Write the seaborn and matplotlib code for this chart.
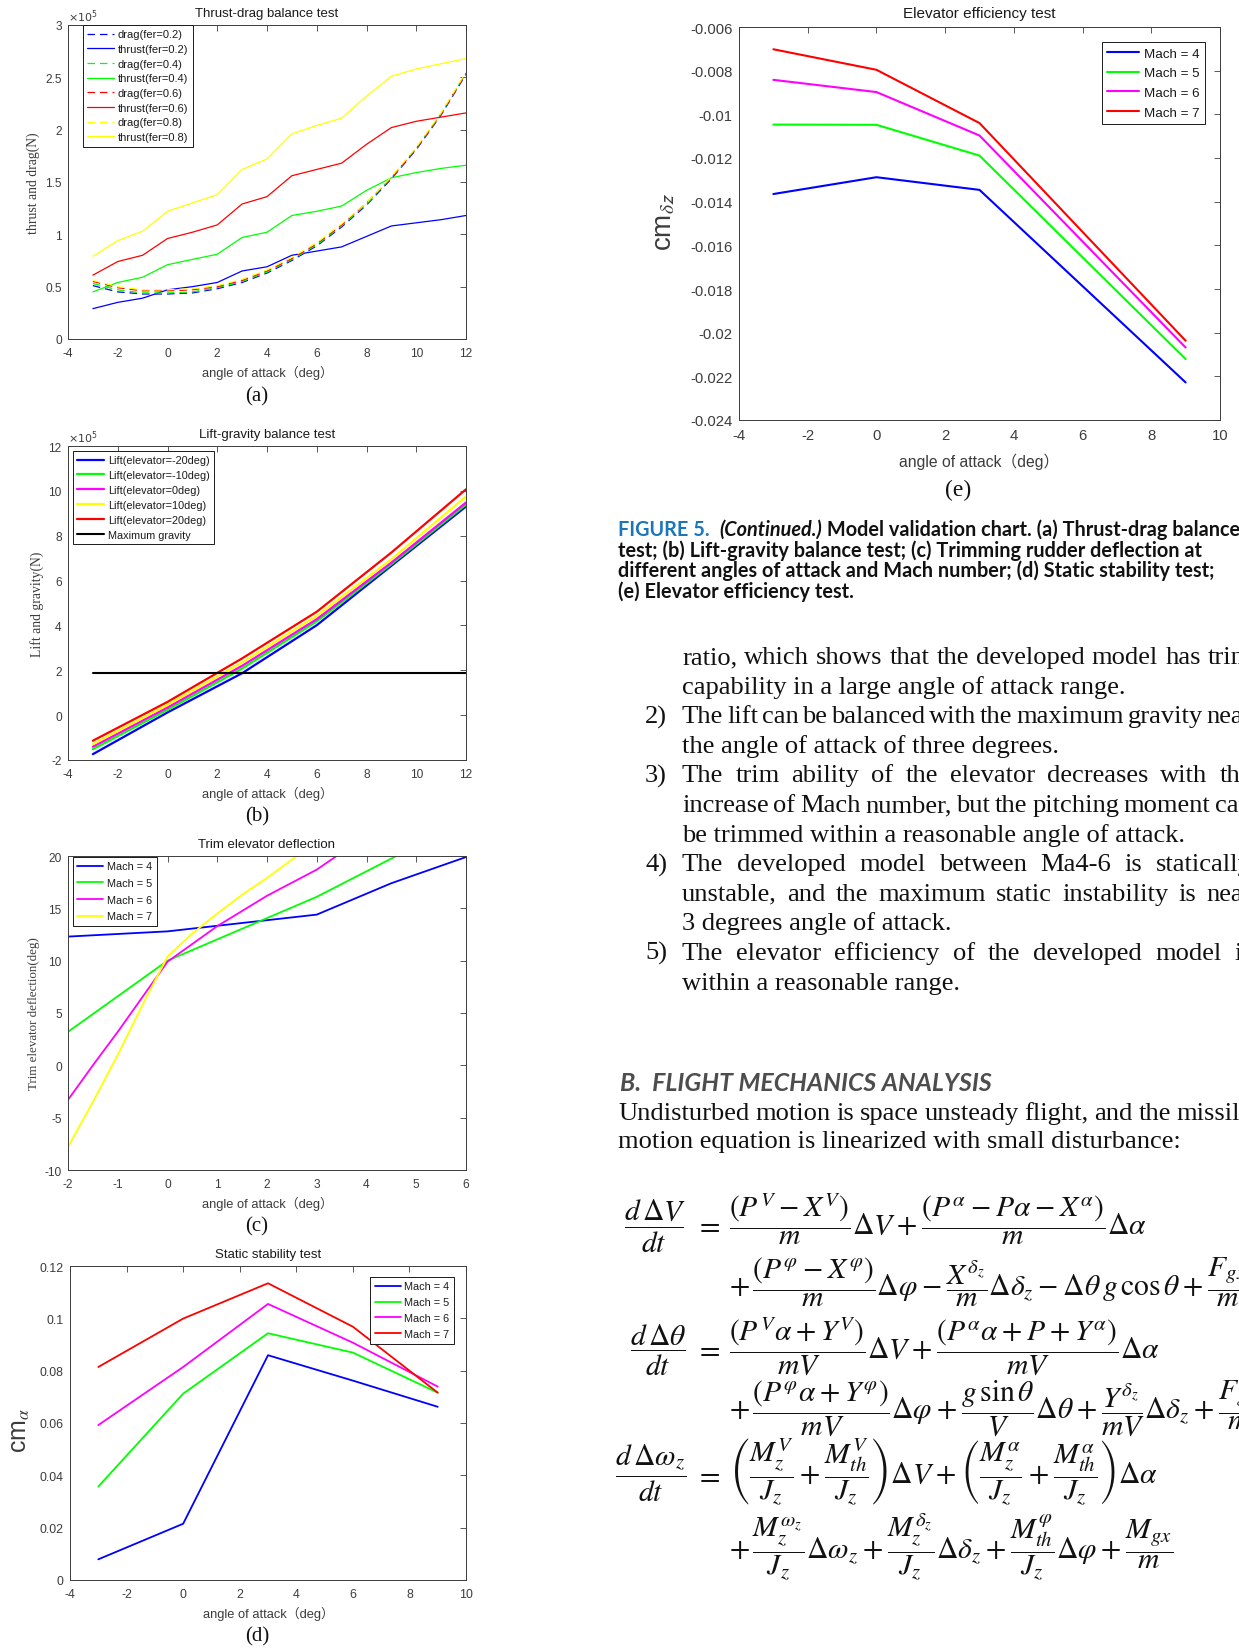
import numpy as np
import pandas as pd
import matplotlib
matplotlib.use("Agg")
import matplotlib.pyplot as plt
import seaborn as sns
from matplotlib import font_manager
from matplotlib.ticker import FuncFormatter

# ---------------- data ----------------
# (a) thrust-drag balance test, values in 1e5 N
a_aoa = [-3, -2, -1, 0, 1, 2, 3, 4, 5, 6, 7, 8, 9, 10, 11, 12]
a_drag_02 = [0.51, 0.45, 0.43, 0.43, 0.44, 0.48, 0.54, 0.63, 0.75, 0.89, 1.07, 1.28, 1.53, 1.81, 2.14, 2.53]
a_thrust_02 = [0.29, 0.35, 0.39, 0.47, 0.50, 0.54, 0.65, 0.69, 0.80, 0.84, 0.88, 0.98, 1.08, 1.11, 1.14, 1.18]
a_drag_04 = [0.53, 0.47, 0.44, 0.44, 0.45, 0.49, 0.55, 0.64, 0.76, 0.90, 1.08, 1.29, 1.54, 1.82, 2.15, 2.54]
a_thrust_04 = [0.45, 0.54, 0.59, 0.71, 0.76, 0.81, 0.97, 1.02, 1.18, 1.22, 1.27, 1.42, 1.54, 1.59, 1.63, 1.66]
a_drag_06 = [0.55, 0.49, 0.46, 0.46, 0.47, 0.50, 0.56, 0.65, 0.77, 0.91, 1.09, 1.30, 1.54, 1.82, 2.15, 2.54]
a_thrust_06 = [0.61, 0.74, 0.80, 0.96, 1.02, 1.09, 1.29, 1.36, 1.56, 1.62, 1.68, 1.86, 2.02, 2.08, 2.12, 2.16]
a_drag_08 = [0.56, 0.50, 0.47, 0.47, 0.48, 0.51, 0.57, 0.66, 0.78, 0.92, 1.10, 1.30, 1.55, 1.83, 2.16, 2.55]
a_thrust_08 = [0.79, 0.94, 1.03, 1.22, 1.30, 1.38, 1.62, 1.72, 1.96, 2.04, 2.11, 2.32, 2.51, 2.58, 2.63, 2.68]
a_labels = ["drag(fer=0.2)", "thrust(fer=0.2)", "drag(fer=0.4)", "thrust(fer=0.4)",
            "drag(fer=0.6)", "thrust(fer=0.6)", "drag(fer=0.8)", "thrust(fer=0.8)"]

# (b) lift-gravity balance test, values in 1e5 N
b_aoa = [-3, 0, 3, 6, 9, 12]
b_lift_m20 = [-1.74, 0.12, 1.87, 4.01, 6.66, 9.30]
b_lift_m10 = [-1.52, 0.24, 2.08, 4.18, 6.73, 9.39]
b_lift_0 = [-1.41, 0.34, 2.20, 4.28, 6.80, 9.48]
b_lift_10 = [-1.29, 0.46, 2.35, 4.43, 6.95, 9.75]
b_lift_20 = [-1.14, 0.59, 2.53, 4.61, 7.25, 10.07]
b_gravity_aoa = [-3, 12]
b_gravity = [1.86, 1.86]
b_labels = ["Lift(elevator=-20deg)", "Lift(elevator=-10deg)", "Lift(elevator=0deg)",
            "Lift(elevator=10deg)", "Lift(elevator=20deg)", "Maximum gravity"]

# (c) trim elevator deflection (deg)
c_aoa_m4 = [-2, 0, 3, 4.5, 6]
c_defl_m4 = [12.3, 12.8, 14.4, 17.4, 19.9]
c_aoa_m5 = [-2, 0, 3, 4.6]
c_defl_m5 = [3.2, 10.0, 16.1, 20.0]
c_aoa_m6 = [-2, -1.5, -1, 0, 1, 2, 3, 3.4]
c_defl_m6 = [-3.3, 0.0, 3.2, 9.9, 13.3, 16.2, 18.7, 20.0]
c_aoa_m7 = [-2, -1.5, -1, -0.5, 0, 0.5, 1, 1.5, 2, 2.6]
c_defl_m7 = [-7.8, -3.5, 1.0, 5.8, 10.4, 12.6, 14.5, 16.3, 17.9, 20.0]
mach_labels = ["Mach = 4", "Mach = 5", "Mach = 6", "Mach = 7"]

# (d) static stability test
d_aoa = [-3, 0, 3, 6, 9]
d_m4 = [0.0079, 0.0215, 0.0859, 0.0762, 0.0662]
d_m5 = [0.0357, 0.0712, 0.0943, 0.0869, 0.0716]
d_m6 = [0.0592, 0.0814, 0.1055, 0.0907, 0.0739]
d_m7 = [0.0814, 0.0999, 0.1134, 0.0968, 0.0716]

# (e) elevator efficiency test
e_aoa = [-3, 0, 3, 9]
e_m4 = [-0.01365, -0.01288, -0.01346, -0.02228]
e_m5 = [-0.01047, -0.01048, -0.01189, -0.02121]
e_m6 = [-0.00842, -0.00898, -0.01097, -0.02068]
e_m7 = [-0.00702, -0.00796, -0.01040, -0.02037]

# ---------------- style ----------------
sns.set_theme(style="white")
plt.rcParams['font.family'] = ['Liberation Sans', 'Noto Sans CJK SC', 'DejaVu Sans']
plt.rcParams['axes.unicode_minus'] = False
plt.rcParams['mathtext.fontset'] = 'stix'

_names = {f.name for f in font_manager.fontManager.ttflist}
CAPF = 'Lato' if 'Lato' in _names else 'Liberation Sans'
SERIF = 'Liberation Serif'

W, H = 1239, 1649
fig = plt.figure(figsize=(W / 100, H / 100), dpi=100)
fig.patch.set_facecolor('white')
renderer = fig.canvas.get_renderer()

BLUE, GREEN, MAG, RED, YEL = '#0000ff', '#00ff00', '#ff00ff', '#ff0000', '#ffff00'
MACH_COLORS = [BLUE, GREEN, MAG, RED]
GRAY = '#3c3c3c'
FMT = FuncFormatter(lambda v, p: f'{v:g}')
XLAB = 'angle of attack（deg）'


def add_ax(l, t, r, b):
    ax = fig.add_axes([l / W, 1 - b / H, (r - l) / W, (b - t) / H])
    ax._px = (l, t, r, b)
    return ax


def style(ax, xlim, xticks, ylim, yticks, tsize, xpad=5.5, ypad=4.5):
    ax.set_xlim(*xlim)
    ax.set_ylim(*ylim)
    ax.set_xticks(xticks)
    ax.set_yticks(yticks)
    ax.xaxis.set_major_formatter(FMT)
    ax.yaxis.set_major_formatter(FMT)
    ax.tick_params(direction='in', top=True, right=True, length=4, width=0.6,
                   colors=GRAY, labelsize=tsize)
    ax.tick_params(axis='x', pad=xpad)
    ax.tick_params(axis='y', pad=ypad)
    for s in ax.spines.values():
        s.set_visible(True)
        s.set_color(GRAY)
        s.set_linewidth(0.7)
    ax.grid(False)
    ax.set_facecolor('white')


def decorate(ax, title, tsize, ttl_y, xl_size, xl_y, ylab, yl_size, yl_x, yfam=None, yl_y=None):
    l, t, r, b = ax._px
    w, h = r - l, b - t
    ax.text(0.5, (b - ttl_y) / h, title, transform=ax.transAxes, ha='center', va='center',
            fontsize=tsize, color='#1a1a1a')
    ax.set_xlabel(XLAB, fontsize=xl_size, color=GRAY)
    ax.xaxis.set_label_coords(0.5, (b - xl_y) / h)
    ax.xaxis.label.set_va('center')
    kw = dict(fontsize=yl_size, color=GRAY)
    if yfam:
        kw['family'] = yfam
    ax.set_ylabel(ylab, **kw)
    yy = 0.5 if yl_y is None else (b - yl_y) / h
    ax.yaxis.set_label_coords((yl_x - l) / w, yy)
    ax.yaxis.label.set_va('center')


def legend(ax, loc, dx, dy, fs, hl, ls, lw=0.7):
    l, t, r, b = ax._px
    w, h = r - l, b - t
    if loc == 'upper left':
        anchor = (dx / w, 1 - dy / h)
    else:
        anchor = (1 - dx / w, 1 - dy / h)
    leg = ax.legend(loc=loc, bbox_to_anchor=anchor, borderaxespad=0, fontsize=fs,
                    frameon=True, fancybox=False, framealpha=1, edgecolor='#1a1a1a',
                    handlelength=hl, handletextpad=0.35, labelspacing=ls, borderpad=0.4)
    leg.get_frame().set_linewidth(lw)
    for tx in leg.get_texts():
        tx.set_color('#1a1a1a')
    return leg


def line(ax, x, y, color, lw, label, ls='-'):
    sns.lineplot(x=x, y=y, ax=ax, color=color, lw=lw, label=label, linestyle=ls,
                 errorbar=None, sort=False)


# ---------------- panel (a) ----------------
axa = add_ax(68, 26, 466, 340)
a_series = [a_drag_02, a_thrust_02, a_drag_04, a_thrust_04, a_drag_06, a_thrust_06, a_drag_08, a_thrust_08]
a_cols = [BLUE, BLUE, GREEN, GREEN, RED, RED, YEL, YEL]
for i, (ys, c, lab) in enumerate(zip(a_series, a_cols, a_labels)):
    line(axa, a_aoa, ys, c, 0.9, lab, ls=(0, (6, 4)) if i % 2 == 0 else '-')
style(axa, (-4, 12), list(range(-4, 13, 2)), (0, 3), [0, 0.5, 1, 1.5, 2, 2.5, 3], 8.6)
decorate(axa, 'Thrust-drag balance test', 9.5, 13.5, 9.3, 372.7, 'thrust and drag(N)', 9.8, 33.5, SERIF)
legend(axa, 'upper left', 15, 0, 8.0, 2.4, 0.42)
axa.text(0, (340 - 22) / 314, r'$\times10^{5}$', transform=axa.transAxes, ha='left', va='baseline',
         fontsize=8, color=GRAY, math_fontfamily='dejavusans')

# ---------------- panel (b) ----------------
axb = add_ax(68, 447, 466, 761)
b_series = [b_lift_m20, b_lift_m10, b_lift_0, b_lift_10, b_lift_20]
for ys, c, lab in zip(b_series, [BLUE, GREEN, MAG, YEL, RED], b_labels[:5]):
    line(axb, b_aoa, ys, c, 1.6, lab)
line(axb, b_gravity_aoa, b_gravity, '#000000', 1.5, b_labels[5])
style(axb, (-4, 12), list(range(-4, 13, 2)), (-2, 12), list(range(-2, 13, 2)), 8.6)
decorate(axb, 'Lift-gravity balance test', 9.5, 435, 9.3, 794, 'Lift and gravity(N)', 9.8, 37.5, SERIF)
legend(axb, 'upper left', 5, 5, 7.8, 2.5, 0.45)
axb.text(0, (761 - 443) / 314, r'$\times10^{5}$', transform=axb.transAxes, ha='left', va='baseline',
         fontsize=8, color=GRAY, math_fontfamily='dejavusans')

# ---------------- panel (c) ----------------
axc = add_ax(68, 857, 466, 1171)
for xs, ys, c, lab in zip([c_aoa_m4, c_aoa_m5, c_aoa_m6, c_aoa_m7],
                          [c_defl_m4, c_defl_m5, c_defl_m6, c_defl_m7], [BLUE, GREEN, MAG, YEL], mach_labels):
    line(axc, xs, ys, c, 1.3, lab)
style(axc, (-2, 6), list(range(-2, 7)), (-10, 20), list(range(-10, 21, 5)), 8.6)
decorate(axc, 'Trim elevator deflection', 9.5, 845, 9.3, 1204, 'Trim elevator deflection(deg)', 9.4, 34, SERIF)
legend(axc, 'upper left', 5, 1, 7.8, 2.4, 0.62)

# ---------------- panel (d) ----------------
axd = add_ax(70, 1267, 466, 1581)
for ys, c, lab in zip([d_m4, d_m5, d_m6, d_m7], MACH_COLORS, mach_labels):
    line(axd, d_aoa, ys, c, 1.3, lab)
style(axd, (-4, 10), list(range(-4, 11, 2)), (0, 0.12), [0, 0.02, 0.04, 0.06, 0.08, 0.1, 0.12], 8.9)
decorate(axd, 'Static stability test', 9.5, 1255, 9.3, 1614, r'cm$_{\alpha}$', 18, 20, None, 1430)
legend(axd, 'upper right', 12, 11, 7.8, 2.4, 0.55)

# ---------------- panel (e) ----------------
axe = add_ax(739, 28, 1220, 421)
for ys, c, lab in zip([e_m4, e_m5, e_m6, e_m7], MACH_COLORS, mach_labels):
    line(axe, e_aoa, ys, c, 1.5, lab)
style(axe, (-4, 10), list(range(-4, 11, 2)), (-0.024, -0.006),
      [-0.024, -0.022, -0.02, -0.018, -0.016, -0.014, -0.012, -0.01, -0.008, -0.006], 10.7, 6, 4.5)
decorate(axe, 'Elevator efficiency test', 11, 14, 11.3, 461.7, r'cm$_{\delta \mathsf{z}}$', 20, 664, None, 222)
legend(axe, 'upper right', 15, 15, 9.6, 2.4, 0.55)

# ---------------- panel letters ----------------
for s, x, y, fs in [('(a)', 257, 397, 15), ('(b)', 257, 817, 15), ('(c)', 257, 1227, 15),
                    ('(d)', 257, 1637, 15), ('(e)', 958, 490, 17)]:
    fig.text(x / W, 1 - y / H, s, ha='center', va='center', fontsize=fs, family=SERIF, color='#111111')


# ---------------- page text ----------------
def put(x, y, s, **kw):
    kw.setdefault('va', 'baseline')
    kw.setdefault('ha', 'left')
    return fig.text(x / W, 1 - y / H, s, **kw)


def width(t):
    return t.get_window_extent(renderer=renderer).width


def fit_size(s, target, size0=12, **kw):
    t = fig.text(0.5, 0.5, s, fontsize=size0, **kw)
    w = width(t)
    t.remove()
    return size0 * target / w


def justify(x0, y, text, right, size, **kw):
    words = text.split()
    ts = [put(x0, y, wd, fontsize=size, **kw) for wd in words]
    ws = [width(t) for t in ts]
    gap = (right - x0 - sum(ws)) / max(len(ws) - 1, 1)
    gap = max(gap, 0.12 * size * 100 / 72)
    x = x0
    for t, wd in zip(ts, ws):
        t.set_x(x / W)
        x += wd + gap


# caption
CAPKW = dict(family=CAPF)
cap2 = 'test; (b) Lift-gravity balance test; (c) Trimming rudder deflection at'
cap3 = 'different angles of attack and Mach number; (d) Static stability test;'
cs = fit_size(cap3, 590, 12, weight='bold', **CAPKW)
x = 618
for s, kw in [('FIGURE 5.', dict(color='#1b75bb', weight='bold')),
              ('  ', dict(weight='bold')),
              ('(Continued.)', dict(weight='bold', style='italic', color='#111111')),
              (' Model validation chart. (a) Thrust-drag balance', dict(weight='bold', color='#111111'))]:
    t = put(x, 536, s, fontsize=cs, **CAPKW, **kw)
    x += width(t)
put(618, 556.7, cap2, fontsize=cs, weight='bold', color='#111111', **CAPKW)
put(618, 577.4, cap3, fontsize=cs, weight='bold', color='#111111', **CAPKW)
put(618, 598, '(e) Elevator efficiency test.', fontsize=cs, weight='bold', color='#111111', **CAPKW)

# body list
bs = fit_size('motion equation is linearized with small disturbance:', 561.6, 16, family=SERIF)
R = 1252
TX, NX = 682, 645
body = [
    (None, 'ratio, which shows that the developed model has trim', True),
    (None, 'capability in a large angle of attack range.', False),
    ('2)', 'The lift can be balanced with the maximum gravity near', True),
    (None, 'the angle of attack of three degrees.', False),
    ('3)', 'The trim ability of the elevator decreases with the', True),
    (None, 'increase of Mach number, but the pitching moment can', True),
    (None, 'be trimmed within a reasonable angle of attack.', False),
    ('4)', 'The developed model between Ma4-6 is statically', True),
    (None, 'unstable, and the maximum static instability is near', True),
    (None, '3 degrees angle of attack.', False),
    ('5)', 'The elevator efficiency of the developed model is', True),
    (None, 'within a reasonable range.', False),
]
for i, (num, txt, just) in enumerate(body):
    yb = 664 + 29.6 * i
    if num:
        put(NX, yb, num, fontsize=bs, family=SERIF, color='#111111')
    if just:
        justify(TX, yb, txt, R, bs, family=SERIF, color='#111111')
    else:
        put(TX, yb, txt, fontsize=bs, family=SERIF, color='#111111')

# section heading
HEADKW = dict(family=CAPF, weight='bold', style='italic')
hs = fit_size('B.  FLIGHT MECHANICS ANALYSIS', 373, 14, **HEADKW)
put(620, 1090.7, 'B.  FLIGHT MECHANICS ANALYSIS', fontsize=hs, color='#4d4d4d', **HEADKW)
justify(618, 1120, 'Undisturbed motion is space unsteady flight, and the missile', R, bs,
        family=SERIF, color='#111111')
put(618, 1148.3, 'motion equation is linearized with small disturbance:', fontsize=bs, family=SERIF,
    color='#111111')

# equations (binary operators padded like TeX display math)
P, M = r'\:+\:', r'\:-\:'
rows = [
    (r'$\dfrac{d\,\Delta V}{dt}$',
     r'$\dfrac{\left(P^{V}' + M + r'X^{V}\right)}{m}\Delta V' + P + r'\dfrac{(P^{\alpha}' + M + r'P\alpha' + M
     + r'X^{\alpha})}{m}\Delta\alpha$', 1226.7),
    (None,
     r'$+\,\dfrac{(P^{\varphi}' + M + r'X^{\varphi})}{m}\Delta\varphi' + M + r'\dfrac{X^{\delta_z}}{m}\Delta\delta_z'
     + M + r'\Delta\theta\,g\,\cos\theta' + P + r'\dfrac{F_{gx}}{m}$', 1288.3),
    (r'$\dfrac{d\,\Delta\theta}{dt}$',
     r'$\dfrac{\left(P^{V}\alpha' + P + r'Y^{V}\right)}{mV}\Delta V' + P + r'\dfrac{(P^{\alpha}\alpha' + P + r'P'
     + P + r'Y^{\alpha})}{mV}\Delta\alpha$', 1350),
    (None,
     r'$+\,\dfrac{(P^{\varphi}\alpha' + P + r'Y^{\varphi})}{mV}\Delta\varphi' + P + r'\dfrac{g\,\sin\theta}{V}\Delta\theta'
     + P + r'\dfrac{Y^{\delta_z}}{mV}\Delta\delta_z' + P + r'\dfrac{F_{gy}}{m}$', 1410),
    (r'$\dfrac{d\,\Delta\omega_z}{dt}$',
     r'$\left(\dfrac{M_z^{V}}{J_z}' + P + r'\dfrac{M_{th}^{V}}{J_z}\right)\Delta V' + P
     + r'\left(\dfrac{M_z^{\alpha}}{J_z}' + P + r'\dfrac{M_{th}^{\alpha}}{J_z}\right)\Delta\alpha$', 1476),
    (None,
     r'$+\,\dfrac{M_z^{\omega_z}}{J_z}\Delta\omega_z' + P + r'\dfrac{M_z^{\delta_z}}{J_z}\Delta\delta_z' + P
     + r'\dfrac{M_{th}^{\varphi}}{J_z}\Delta\varphi' + P + r'\dfrac{M_{gx}}{m}$', 1551),
]
es = np.mean([fit_size(rows[0][1], 421, 16), fit_size(rows[4][1], 437, 16), fit_size(rows[5][1], 443, 16)])
for lhs, rhs, yb in rows:
    ybase = yb + 0.26 * es * 100 / 72
    if lhs:
        put(686, ybase, lhs, fontsize=es, ha='right', color='#111111')
        put(708, ybase, r'$=$', fontsize=es, ha='center', color='#111111')
    put(729, ybase, rhs, fontsize=es, color='#111111')

fig.savefig('out.png', dpi=100, facecolor='white')
